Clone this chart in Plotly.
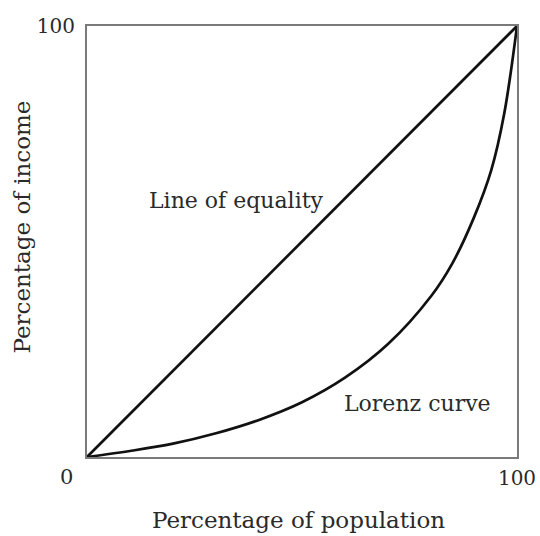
import plotly.graph_objects as go

# Data
population_pct = [0, 10, 20, 30, 40, 50, 60, 70, 80, 85, 90, 94, 97, 100]
lorenz_income_pct = [0, 1.4, 3.1, 5.5, 8.6, 12.7, 18.4, 26.2, 37.3, 45.0, 55.6, 66.5, 79.5, 100]
equality_x = [0, 100]
equality_y = [0, 100]
x_tick_vals = [100]
x_tick_text = ["100"]
y_tick_vals = [100]
y_tick_text = ["100"]
origin_label = "0"

FONT = "DejaVu Serif"
TXT = "#2a2a2a"

fig = go.Figure()
fig.add_trace(go.Scatter(x=equality_x, y=equality_y, mode="lines",
                         line=dict(color="#111111", width=2.7), showlegend=False))
fig.add_trace(go.Scatter(x=population_pct, y=lorenz_income_pct, mode="lines",
                         line=dict(color="#111111", width=2.7, shape="spline", smoothing=1.0),
                         showlegend=False))

fig.update_layout(
    width=540, height=536,
    margin=dict(l=87, r=23, t=26, b=79),
    paper_bgcolor="white", plot_bgcolor="white",
    font=dict(family=FONT, size=22, color=TXT),
    xaxis=dict(range=[0, 100], showgrid=False, zeroline=False, showline=True, mirror=True,
               linecolor="#7a7a7a", linewidth=2, tickvals=x_tick_vals, ticktext=x_tick_text,
               ticks="", automargin=False, ticklabelstandoff=2,
               tickfont=dict(family=FONT, size=20, color=TXT),
               title=dict(text="")),
    yaxis=dict(range=[0, 100], showgrid=False, zeroline=False, showline=True, mirror=True,
               linecolor="#7a7a7a", linewidth=2, tickvals=y_tick_vals, ticktext=y_tick_text,
               ticks="", automargin=False, ticklabelstandoff=6,
               tickfont=dict(family=FONT, size=20, color=TXT),
               title=dict(text="")),
)

fig.add_annotation(text="Percentage of population", xref="paper", yref="paper",
                   x=0.492, y=-0.146, showarrow=False, xanchor="center", yanchor="middle",
                   font=dict(family=FONT, size=23, color=TXT))
fig.add_annotation(text="Percentage of income", xref="paper", yref="paper",
                   x=-0.152, y=0.534, textangle=-90, showarrow=False,
                   xanchor="center", yanchor="middle",
                   font=dict(family=FONT, size=23, color=TXT))
fig.add_annotation(text=origin_label, xref="paper", yref="paper", x=-0.027, y=-0.046,
                   showarrow=False, xanchor="right", yanchor="middle",
                   font=dict(family=FONT, size=21, color=TXT))
fig.add_annotation(text="Line of equality", x=55.6, y=59.6, showarrow=False,
                   xanchor="right", yanchor="middle", font=dict(family=FONT, size=22, color=TXT))
fig.add_annotation(text="Lorenz curve", x=59.3, y=12.4, showarrow=False,
                   xanchor="left", yanchor="middle", font=dict(family=FONT, size=22, color=TXT))

# remove the browser's default page margin so the 540x536 figure fills the window exactly
fig.write_html("out.html", config={"displayModeBar": False},
               post_script="document.body.style.margin='0';")
